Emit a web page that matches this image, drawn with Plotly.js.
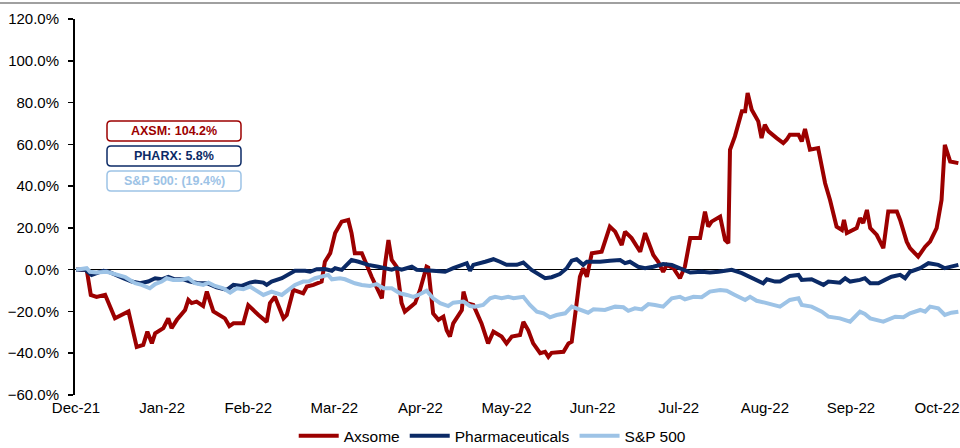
<!DOCTYPE html>
<html><head><meta charset="utf-8">
<script src="https://cdn.plot.ly/plotly-3.0.1.min.js"></script>
<style>html,body{margin:0;padding:0;background:#fff}#chart{width:960px;height:448px}</style>
</head><body><div id="chart"></div>
<script>
// trading-day index (0 = Dec-21 start) and cumulative return (%)
const axsomeDay = [0,2.6,3.6,5.0,7.1,9.5,12.8,14.8,16.4,17.4,18.5,19.3,21.3,22.5,23.3,24.6,26.6,27.4,28.2,29.4,31.0,31.9,33.5,36.3,37.4,38.4,40.8,42.0,44.5,46.5,47.3,48.5,50.6,51.4,53.0,55.4,56.3,57.9,59.9,60.7,62.0,63.2,64.8,66.4,67.2,68.0,69.7,72.1,74.6,75.4,76.2,77.0,78.2,79.4,80.2,81.5,82.7,83.9,85.5,85.9,87.1,88.4,89.6,90.4,91.2,92.0,93.2,94.1,94.5,95.3,96.9,98.9,100.5,101.8,103.8,105.0,106.3,108.3,109.1,110.3,111.5,113.2,114.4,115.2,116.0,118.9,120.1,120.9,122.1,122.9,123.7,124.6,125.8,128.2,130.2,131.5,133.1,133.9,135.5,137.6,138.8,139.6,140.8,142.0,143.2,144.1,145.7,147.3,148.5,149.8,152.2,153.4,154.2,155.0,157.1,158.3,159.1,159.5,160.7,162.4,163.2,163.8,164.8,166.4,167.2,168.0,168.9,170.9,172.5,173.3,174.1,176.2,177.0,177.8,179.0,181.0,182.7,183.9,185.5,186.8,187.3,188.0,190.4,191.2,192.0,192.9,193.7,195.3,196.9,198.1,200.2,201.0,202.6,203.4,205.4,207.1,208.3,209.9,211.1,211.9,213.2,215.2];
const axsomeVal = [0,0,-12.1,-13,-12,-23.3,-20,-37,-36,-29.7,-35.3,-30.5,-28,-23.3,-28,-24,-19.3,-14.5,-16,-15.3,-17.4,-10.5,-20,-23.3,-27,-25.7,-25.7,-17,-21.7,-25,-16,-13,-23.3,-21.7,-9.7,-11.3,-8.1,-7.3,-5.7,3.8,7.9,17.5,23,23.8,17.5,7.9,7.9,-3.4,-13.7,3.1,14.2,4.6,1.4,-16,-20.1,-17.7,-16,-9.7,1.4,1.0,-21,-24,-22.5,-29,-32,-25.7,-21.7,-19.3,-10.5,-16,-16.9,-25.7,-35.3,-29.7,-32,-35.3,-32,-31.3,-25,-29,-35.3,-40,-39.3,-41.7,-39.8,-39.3,-35.3,-34.5,-16,-3.4,0.7,-3.4,7.9,8.6,20.6,18.2,11.8,18.2,15.1,8.6,17.5,12.7,7,3.8,-1,2.3,0.7,-4.1,1.4,15.1,15.1,27.8,20.6,23,25.4,14.2,12.7,57.4,63.8,75.8,75.8,84.6,76.6,71,63,69.4,66.2,63,60.6,62.2,64.6,64.6,61.4,67.3,57.4,58.2,41.4,33.4,20.6,19,23.8,17.5,19.9,24.7,22.3,28.6,19.9,16.6,10.3,27.8,27.8,23.8,13.4,10.3,6.2,11,13.4,19.9,33.4,59.8,51.8,51];

const pharmaDay = [0,2.2,3.8,5.0,6.7,7.9,9.5,11.5,13.6,15.6,17.6,19.3,20.9,22.5,24.1,26.2,27.8,29.8,31.9,34.3,36.8,38.4,40.4,42.4,43.7,45.7,46.5,47.7,50.2,51.8,53.4,55.9,57.1,58.7,60.7,62.4,63.2,64.8,66.0,67.2,68.9,71.3,73.7,75.4,77.0,78.2,79.4,81.9,83.1,87.1,90.0,92.0,94.5,95.3,96.1,96.9,99.8,101.8,103.4,105.0,107.5,109.1,111.1,113.2,114.4,116.0,118.0,119.7,120.9,122.1,122.9,123.7,124.6,127.8,130.2,132.7,133.9,135.1,137.1,138.8,140.8,143.2,145.3,147.3,149.8,152.6,154.6,156.7,159.9,162.4,164.8,167.6,168.5,170.5,171.7,174.1,176.2,177.0,179.4,182.3,183.5,186.3,187.6,188.8,191.2,192.4,193.7,195.7,197.3,198.9,201.0,202.2,203.4,205.9,207.9,210.3,211.9,213.2,215.2];
const pharmaVal = [0,0,-2.5,-1.7,-0.5,-1,-2.5,-4.1,-5.7,-6.5,-5.7,-4.1,-4.6,-3.4,-4.6,-4.6,-5.7,-6.5,-6.5,-8.5,-9.7,-7.3,-7.8,-6.2,-5.7,-6.2,-7.3,-5.7,-4.1,-2.5,-0.5,-0.5,-1,0.2,0.3,-0.5,0.7,-0.1,2.3,4.6,3.8,2.3,1.4,0.7,0,0.7,0,1.4,0,-0.5,-1,0.7,2.3,3.1,-0.5,2.3,3.8,5,3.8,2.3,2.3,3.4,-0.1,-3,-4.1,-3.6,-2.1,0.7,4.3,5,3.8,2.3,3.8,3.8,4.3,4.6,3.1,3.8,1.4,0.7,1.4,2.7,2.3,0.7,-1.4,-1,-1.4,-1,-0.1,-1.7,-4.1,-6.5,-4.6,-5.7,-5.7,-3,-2.5,-4.9,-4.6,-7.3,-5.7,-6.2,-4.1,-5.7,-4.9,-4.1,-6.5,-6.5,-4.9,-3.4,-2.5,-4.1,-1,0.7,3.1,2.3,0.7,1.4,2.3];

const spxDay = [0,2.6,3.4,5.0,7.5,9.9,12.0,14.4,16.0,18.0,19.3,20.9,22.1,23.7,25.4,27.4,29.0,31.0,32.3,33.9,35.9,37.6,39.2,40.8,42.4,43.7,45.7,47.7,50.2,51.8,53.4,55.4,56.7,58.3,60.3,61.5,62.4,64.4,65.6,68.0,69.7,71.7,73.3,75.0,77.0,79.0,80.7,82.3,83.5,85.5,87.1,88.8,90.8,92.0,94.5,96.1,97.3,99.3,101.0,102.2,103.8,105.4,106.7,109.1,110.7,112.4,114.0,115.6,117.2,119.3,120.9,122.1,123.7,124.9,126.2,129.0,131.5,133.5,134.7,136.3,138.0,139.6,141.2,143.2,145.3,147.3,148.5,150.6,152.6,154.6,157.1,158.7,160.7,163.2,164.4,166.0,168.0,169.7,171.7,174.1,176.2,177.0,179.4,181.9,183.5,186.3,188.8,191.2,192.4,193.7,196.9,199.8,201.8,203.4,205.9,207.1,208.3,210.3,211.9,213.5,215.2];
const spxVal = [0,0.7,-1,-1.4,-1,-2.5,-3.6,-6.5,-7.3,-8.9,-6.9,-5.7,-4.1,-4.9,-4.9,-4.1,-6.5,-7.3,-6.2,-7.8,-8.9,-11,-8.9,-9.4,-8.1,-9.7,-12.1,-10.5,-12.1,-9.7,-7.3,-5.7,-5.7,-4.1,-3,-2.5,-4.6,-4.1,-4.6,-6.5,-7.3,-7.8,-6.9,-8.9,-8.9,-11.3,-12.1,-13,-12.1,-10.1,-13.7,-16,-17.4,-15.8,-15.3,-17.4,-17.7,-16.9,-13.7,-13,-13.7,-13,-13.7,-13,-16.9,-20.1,-20.9,-22.8,-21.7,-20.9,-17.7,-18.5,-19.3,-20.6,-19,-19.3,-17.7,-18,-19.7,-18.5,-19,-16.5,-16.9,-17.7,-13.7,-13,-14.2,-13,-13.2,-10.5,-9.7,-10.1,-12.1,-14.5,-13,-14.9,-15.8,-16.9,-17.7,-14.5,-13.7,-16.9,-17.7,-20.1,-22.5,-23.3,-24.9,-20.1,-21.2,-23.3,-24.9,-22.5,-22.8,-20.9,-19.3,-20.1,-17.7,-18.5,-21.7,-20.6,-20.1];

const seriesNames = ['Axsome','Pharmaceuticals','S&P 500'];
const tickDays = [0,21,42,63,84,105,126,147,168,189,210];
const tickLabels = ['Dec-21','Jan-22','Feb-22','Mar-22','Apr-22','May-22','Jun-22','Jul-22','Aug-22','Sep-22','Oct-22'];
const boxLabels = ['AXSM: 104.2%','PHARX: 5.8%','S&P 500: (19.4%)'];

const RED = '#9c0000', NAVY = '#0b2a66', LIGHT = '#9dc3e6';
const FONT = 'Liberation Sans, Arial, sans-serif';

// layout geometry helpers (pixels -> paper)
const M = {l:75, r:0, t:19, b:53, autoexpand: false}, W = 960, H = 448;
const PW = W - M.l - M.r, PH = H - M.t - M.b;
const px = x => (x - M.l) / PW;
const py = y => (H - M.b - y) / PH;

function roundRect(x0, y0, x1, y1, r) {
  const P = (x, y) => px(x).toFixed(5) + ',' + py(y).toFixed(5);
  return 'M' + P(x0 + r, y0) + ' L' + P(x1 - r, y0) + ' Q' + P(x1, y0) + ' ' + P(x1, y0 + r) +
    ' L' + P(x1, y1 - r) + ' Q' + P(x1, y1) + ' ' + P(x1 - r, y1) +
    ' L' + P(x0 + r, y1) + ' Q' + P(x0, y1) + ' ' + P(x0, y1 - r) +
    ' L' + P(x0, y0 + r) + ' Q' + P(x0, y0) + ' ' + P(x0 + r, y0) + ' Z';
}

const traces = [
  {x: axsomeDay, y: axsomeVal, name: seriesNames[0], mode: 'lines', line: {color: RED, width: 4}},
  {x: pharmaDay, y: pharmaVal, name: seriesNames[1], mode: 'lines', line: {color: NAVY, width: 4}},
  {x: spxDay, y: spxVal, name: seriesNames[2], mode: 'lines', line: {color: LIGHT, width: 4}}
];

const boxColors = [RED, NAVY, LIGHT];
const boxTops = [121, 146, 171];
const shapes = [
  {type: 'line', xref: 'paper', yref: 'paper', x0: px(0), x1: px(960), y0: py(3), y1: py(3),
   line: {color: '#a0a0a0', width: 2}}
];
const annotations = [];
boxLabels.forEach((t, i) => {
  const y0 = boxTops[i], y1 = y0 + 20;
  shapes.push({type: 'path', xref: 'paper', yref: 'paper', path: roundRect(107, y0, 241, y1, 4),
    line: {color: boxColors[i], width: 1.5}, fillcolor: '#ffffff'});
  annotations.push({xref: 'paper', yref: 'paper', x: px(174), y: py(y0 + 10), text: '<b>' + t + '</b>',
    showarrow: false, xanchor: 'center', yanchor: 'middle',
    font: {family: FONT, size: 12.5, color: boxColors[i]}});
});

const layout = {
  width: W, height: H, margin: M,
  paper_bgcolor: '#fff', plot_bgcolor: '#fff',
  font: {family: FONT, size: 15, color: '#000'},
  showlegend: true,
  legend: {orientation: 'h', x: 0.472, xanchor: 'center', y: -0.064, yanchor: 'top',
           font: {family: FONT, size: 15.5, color: '#000'}, itemwidth: 40, tracegroupgap: 0},
  xaxis: {range: [-0.25, 215.6], tickmode: 'array', tickvals: tickDays, ticktext: tickLabels,
          showgrid: false, zeroline: false, showline: false, ticks: '', ticklabelstandoff: 2,
          automargin: false, tickfont: {family: FONT, size: 15, color: '#000'}},
  yaxis: {range: [-60, 120], dtick: 20, tick0: 0, tickformat: '.1f', ticksuffix: '%',
          showgrid: false, showline: true, linecolor: '#000', linewidth: 2,
          ticks: 'outside', ticklen: 5, tickwidth: 1.5, tickcolor: '#000',
          zeroline: true, zerolinecolor: '#000', zerolinewidth: 1.5, ticklabelstandoff: 6,
          automargin: false, tickfont: {family: FONT, size: 15, color: '#000'}},
  shapes: shapes,
  annotations: annotations
};

Plotly.newPlot('chart', traces, layout, {displayModeBar: false, staticPlot: true});
</script>
</body></html>
